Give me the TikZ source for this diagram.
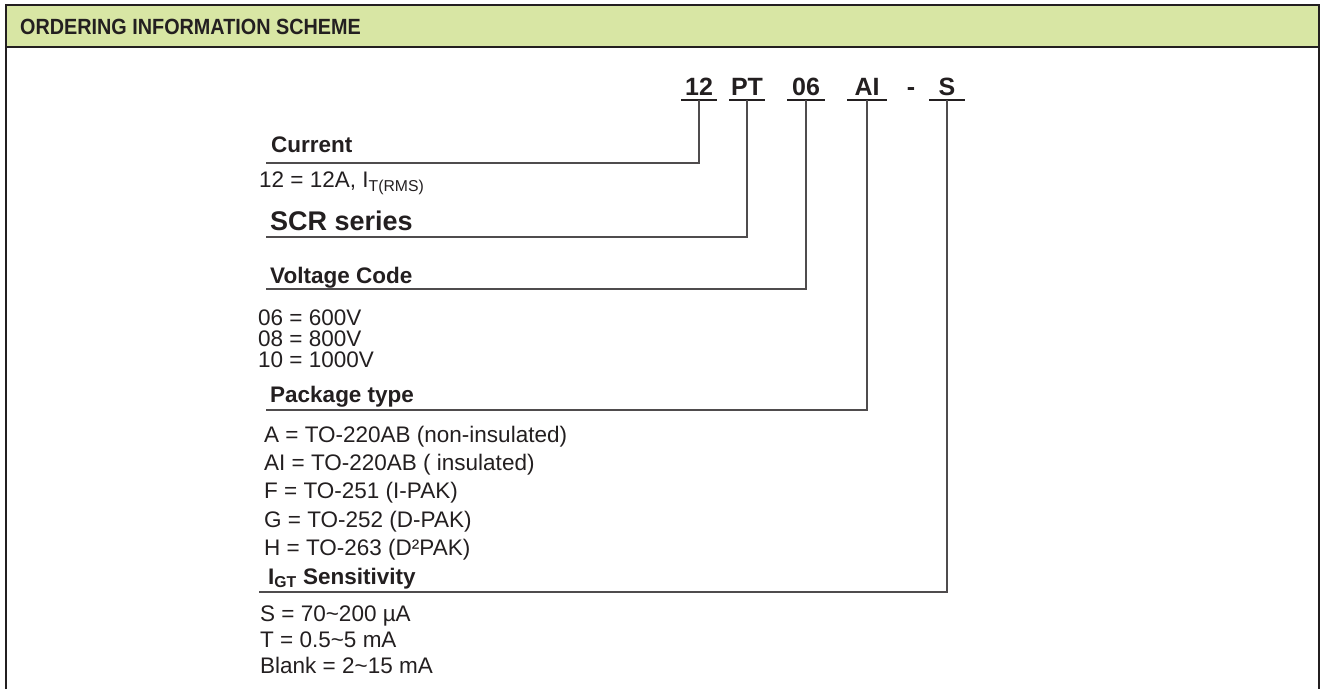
\documentclass[tikz,border=0pt]{standalone}
\usepackage{fontspec}
\setmainfont{Liberation Sans}
\newfontfamily\titlefont{Liberation Sans}[FakeStretch=0.9]
\definecolor{headgreen}{RGB}{216,230,164}
\definecolor{ink}{RGB}{35,31,32}

\begin{document}
\begin{tikzpicture}[x=1pt, y=-1pt,
  every node/.style={inner sep=0pt, anchor=base west, text=ink},
  heading/.style={font=\bfseries\fontsize{22.5}{26}\selectfont},
  entry/.style={font=\fontsize{22.5}{21}\selectfont, text height=16pt, text depth=4pt},
  codepart/.style={font=\bfseries\fontsize{25}{30}\selectfont, anchor=base},
  leader/.style={draw=ink!80, line width=1.2pt},
  underl/.style={draw=ink, line width=2pt}
]
\useasboundingbox (0,0) rectangle (1323,689);
% frame and header
\fill[headgreen] (6,5) rectangle (1319,47);
\draw[ink, line width=2.6pt] (6,689) -- (6,5) -- (1319,5) -- (1319,689);
\draw[ink, line width=2.6pt] (6,47) -- (1319,47);
\node[font=\titlefont\bfseries\fontsize{22}{26}\selectfont] (title) at (20,34) {ORDERING INFORMATION SCHEME};

% part number
\node[codepart] (c12) at (699,95) {12};
\node[codepart] (cpt) at (747,95) {PT};
\node[codepart] (c06) at (806,95) {06};
\node[codepart] (cai) at (867,95) {AI};
\node[codepart] (cdash) at (911,95) {-};
\node[codepart] (cs) at (947,95) {S};
\foreach \c/\w in {c12/18, cpt/18, c06/19, cai/20, cs/18} {
  \coordinate (\c-l) at ([xshift=-\w pt, yshift=-5pt]\c.base);
  \coordinate (\c-r) at ([xshift=\w pt, yshift=-5pt]\c.base);
  \draw[underl] (\c-l) -- (\c-r);
}

% Current
\node[heading] (cur) at (271,152) {Current};
\coordinate (curL) at (266,163);
\node[entry] (curv) at (259,187) {12 = 12A, I\textsubscript{T(RMS)}};
\draw[leader] (curL) -| ([yshift=-5pt]c12.base);

% SCR series
\node[font=\bfseries\fontsize{27}{32}\selectfont] (scr) at (270,230) {SCR series};
\coordinate (scrL) at (266,237);
\draw[leader] (scrL) -| ([yshift=-5pt]cpt.base);

% Voltage Code
\node[heading] (volt) at (270,283) {Voltage Code};
\coordinate (voltL) at (266,289);
\node[entry] (v06) at (258,325) {06 = 600V};
\node[entry] (v08) at (258,346) {08 = 800V};
\node[entry] (v10) at (258,367) {10 = 1000V};
\draw[leader] (voltL) -| ([yshift=-5pt]c06.base);

% Package type
\node[heading] (pkg) at (270,402) {Package type};
\coordinate (pkgL) at (266,410);
\node[entry] (pa) at (264,442) {A = TO-220AB (non-insulated)};
\node[entry] (pai) at (264,470) {AI = TO-220AB ( insulated)};
\node[entry] (pf) at (264,498) {F = TO-251 (I-PAK)};
\node[entry] (pg) at (264,527) {G = TO-252 (D-PAK)};
\node[entry] (ph) at (264,555) {H = TO-263 (D²PAK)};
\draw[leader] (pkgL) -| ([yshift=-5pt]cai.base);

% IGT Sensitivity
\node[heading] (igt) at (268,584) {I\textsubscript{GT} Sensitivity};
\coordinate (igtL) at (259,592);
\node[entry] (ss) at (260,621) {S = 70\textasciitilde200 µA};
\node[entry] (st) at (260,647) {T = 0.5\textasciitilde5 mA};
\node[entry] (sb) at (260,673) {Blank = 2\textasciitilde15 mA};
\draw[leader] (igtL) -| ([yshift=-5pt]cs.base);
\end{tikzpicture}
\end{document}
